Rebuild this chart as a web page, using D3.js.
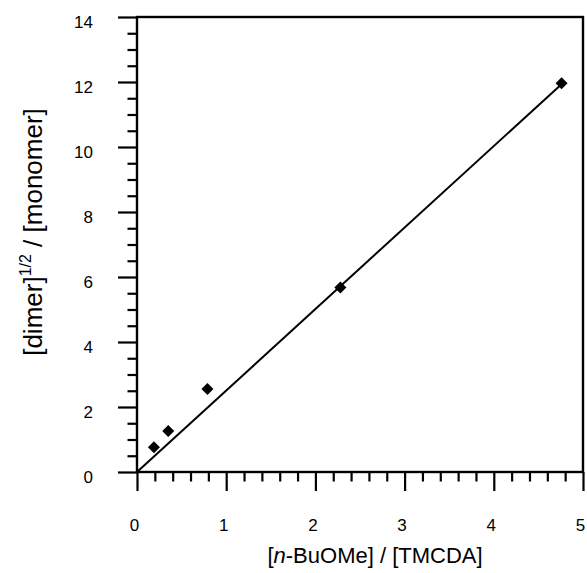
<!DOCTYPE html>
<html>
<head>
<meta charset="utf-8">
<script src="https://cdn.jsdelivr.net/npm/d3@7"></script>
<style>
  body { margin: 0; background: #fff; }
  text { font-family: "Liberation Sans", Arial, sans-serif; fill: #000; }
</style>
</head>
<body>
<div id="chart"></div>
<script>
// measured points
const ratioX = [0.19, 0.35, 0.79, 2.28, 4.76];
const dimerY = [0.76, 1.26, 2.55, 5.68, 11.96];
// fitted line (through origin)
const fitX = [0, 4.75];
const fitY = [0, 11.91];
const xMajor = [0, 1, 2, 3, 4, 5];
const yMajor = [0, 2, 4, 6, 8, 10, 12, 14];

const width = 587;
const height = 573;
const margin = { top: 17, right: 4, bottom: 101, left: 137 };

const svg = d3.select('#chart')
    .append('svg')
    .attr('width', width)
    .attr('height', height);

const x = d3.scaleLinear()
    .domain([0, 5])
    .range([margin.left, width - margin.right]);
const y = d3.scaleLinear()
    .domain([0, 14])
    .range([height - margin.bottom, margin.top]);

const xMinor = d3.range(0, 5.001, 0.2).filter(v => Math.abs(v - Math.round(v)) > 1e-6);
const yMinor = d3.range(0, 14.001, 0.5).filter(v => Math.abs(v / 2 - Math.round(v / 2)) > 1e-6);

// minor ticks
svg.append('g')
    .attr('transform', `translate(0,${y(0)})`)
    .call(d3.axisBottom(x).tickValues(xMinor).tickSize(9.5).tickFormat(''))
    .call(g => g.select('.domain').remove());
svg.append('g')
    .attr('transform', `translate(${x(0)},0)`)
    .call(d3.axisLeft(y).tickValues(yMinor).tickSize(9.5).tickFormat(''))
    .call(g => g.select('.domain').remove());

// major ticks
const xAxis = svg.append('g')
    .attr('transform', `translate(0,${y(0)})`)
    .call(d3.axisBottom(x).tickValues(xMajor).tickSize(19).tickPadding(28).tickFormat(d3.format('d')))
    .call(g => g.select('.domain').remove());
xAxis.selectAll('text')
    .attr('dx', -3)
    .style('font-size', '17px');

const yAxis = svg.append('g')
    .attr('transform', `translate(${x(0)},0)`)
    .call(d3.axisLeft(y).tickValues(yMajor).tickSize(19).tickPadding(25).tickFormat(d3.format('d')))
    .call(g => g.select('.domain').remove());
yAxis.selectAll('text')
    .attr('dy', '0.6em')
    .style('font-size', '17px');

svg.selectAll('.tick line')
    .attr('stroke', '#000')
    .attr('stroke-width', 2.2);

// frame
svg.append('rect')
    .attr('x', x(0))
    .attr('y', y(14))
    .attr('width', x(5) - x(0))
    .attr('height', y(0) - y(14))
    .attr('fill', 'none')
    .attr('stroke', '#000')
    .attr('stroke-width', 2.4);

// fit line
const fit = fitX.map((v, i) => [v, fitY[i]]);
svg.append('path')
    .datum(fit)
    .attr('fill', 'none')
    .attr('stroke', '#000')
    .attr('stroke-width', 2)
    .attr('d', d3.line().x(d => x(d[0])).y(d => y(d[1])));

// data points (diamonds)
const pts = ratioX.map((v, i) => [v, dimerY[i]]);
svg.selectAll('.pt')
    .data(pts)
    .enter()
    .append('path')
    .classed('pt', true)
    .attr('d', d3.symbol(d3.symbolSquare, 72))
    .attr('transform', d => `translate(${x(d[0])},${y(d[1])}) rotate(45)`)
    .attr('fill', '#000');

// axis titles
const xt = svg.append('text')
    .attr('x', 375)
    .attr('y', 563)
    .style('font-size', '22px')
    .style('text-anchor', 'middle');
xt.append('tspan').text('[');
xt.append('tspan').style('font-style', 'italic').text('n');
xt.append('tspan').text('-BuOMe] / [TMCDA]');

const yt = svg.append('text')
    .attr('transform', 'translate(42,232) rotate(-90)')
    .style('font-size', '26px')
    .style('text-anchor', 'middle');
yt.append('tspan').text('[dimer]');
yt.append('tspan').attr('dy', -11).style('font-size', '16px').text('1/2');
yt.append('tspan').attr('dy', 11).text(' / [monomer]');
</script>
</body>
</html>
